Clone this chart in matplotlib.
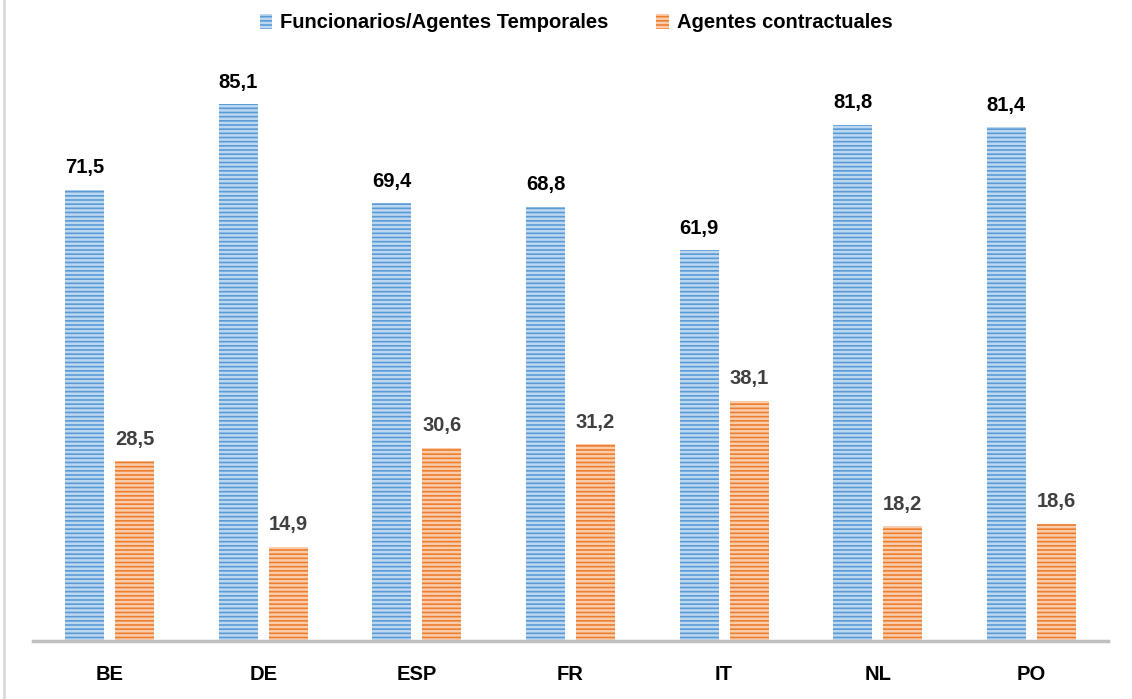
import matplotlib
matplotlib.use("Agg")
import matplotlib.pyplot as plt
from matplotlib.lines import Line2D
import numpy as np

categories = ["BE", "DE", "ESP", "FR", "IT", "NL", "PO"]
funcionarios = [71.5, 85.1, 69.4, 68.8, 61.9, 81.8, 81.4]
contractuales = [28.5, 14.9, 30.6, 31.2, 38.1, 18.2, 18.6]
series_names = ["Funcionarios/Agentes Temporales", "Agentes contractuales"]

plt.rcParams['font.family'] = ['Liberation Sans Narrow', 'Liberation Sans', 'DejaVu Sans']
plt.rcParams['hatch.linewidth'] = 1.8

W, H = 1132, 699
fig = plt.figure(figsize=(W / 100, H / 100), dpi=100)
ax = fig.add_axes([33 / W, 1 - 641 / H, (1108 - 33) / W, (641 - 60) / H])

x = np.arange(len(categories))
bw = 0.254
off = 0.163
blue_face, blue_hatch = "#5B9BD5", "#BCD7F0"
orange_face, orange_hatch = "#ED7D31", "#F9CDAB"

b1 = ax.bar(x - off, funcionarios, bw, color=blue_face, edgecolor=blue_hatch,
            linewidth=0, hatch="----", label=series_names[0])
b2 = ax.bar(x + off, contractuales, bw, color=orange_face, edgecolor=orange_hatch,
            linewidth=0, hatch="----", label=series_names[1])

for xi, v in zip(x - off, funcionarios):
    ax.annotate(f"{v:.1f}".replace(".", ","), (xi, v), xytext=(0, 9),
                textcoords="offset points", ha="center", va="bottom",
                fontsize=14.5, fontweight="bold", color="#000000")
for xi, v in zip(x + off, contractuales):
    ax.annotate(f"{v:.1f}".replace(".", ","), (xi, v), xytext=(0, 9),
                textcoords="offset points", ha="center", va="bottom",
                fontsize=14.5, fontweight="bold", color="#404040")

ax.set_xlim(-0.5, len(categories) - 0.5)
ax.set_ylim(0, (641 - 60) / 6.31)
ax.set_xticks(x)
ax.set_xticklabels(categories, fontsize=14.5, fontweight="bold")
ax.tick_params(axis="x", length=0, pad=17)
ax.set_yticks([])
for s in ["top", "right", "left"]:
    ax.spines[s].set_visible(False)
ax.spines["bottom"].set_color("#BFBFBF")
ax.spines["bottom"].set_linewidth(2.5)

leg = fig.legend(handles=[b1, b2], labels=series_names, loc="center",
                 bbox_to_anchor=(576 / W, 1 - 23 / H), ncol=2, frameon=False,
                 prop={"size": 14.5, "weight": "bold"}, handlelength=0.6,
                 handleheight=0.8, handletextpad=0.4, columnspacing=2.4)

fig.add_artist(Line2D([3.5 / W, 3.5 / W], [0, 1], transform=fig.transFigure,
                      color="#D9D9D9", linewidth=2))

fig.savefig("out.png", dpi=100, facecolor="white")
